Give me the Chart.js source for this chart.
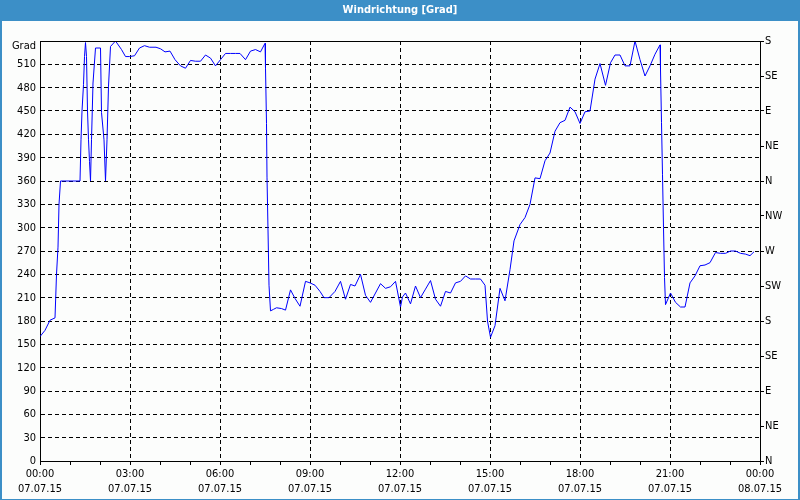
<!DOCTYPE html>
<html>
<head>
<meta charset="utf-8">
<script src="https://cdn.jsdelivr.net/npm/chart.js@4/dist/chart.umd.min.js"></script>
<style>
html,body{margin:0;padding:0;background:#fcfdfc;}
canvas{display:block;}
</style>
</head>
<body>
<canvas id="c" width="800" height="500"></canvas>
<script>
// ---- data ----
const titleText = 'Windrichtung [Grad]';
const unitLabel = 'Grad';
const dateLabels = ['07.07.15', '08.07.15'];
const compassLabels = ['N','NE','E','SE','S','SW','W','NW','N','NE','E','SE','S'];

// minutes since 07.07.15 00:00
const timeMinutes = [
  0, 10, 20, 30, 33, 36, 38, 41, 80, 82, 84, 87, 89, 91, 93, 95, 97, 99, 101,
  103, 106, 111, 121, 123, 128, 131, 134, 137, 141, 151, 163, 171, 179, 189, 199,
  209, 219, 232, 241, 250, 260, 270, 281, 291, 301, 311, 321, 331, 341, 351, 361,
  371, 381, 391, 400, 411, 421, 431, 441, 450, 451, 453, 454, 456, 458, 461, 467,
  473, 483, 491, 501, 510, 520, 531, 540, 550, 560, 568, 578, 590, 601, 611, 621,
  630, 641, 651, 661, 671, 681, 691, 701, 711, 721, 725, 731, 741, 751, 761, 771,
  781, 791, 801, 811, 821, 831, 841, 851, 861, 871, 881, 890, 895, 901, 910, 920,
  930, 940, 948, 960, 970, 980, 990, 1000, 1010, 1020, 1030, 1040, 1050, 1060, 1070,
  1080, 1090, 1100, 1110, 1120, 1131, 1141, 1150, 1160, 1170, 1180, 1190, 1200, 1210,
  1220, 1230, 1240, 1241, 1243, 1245, 1247, 1249, 1251, 1261, 1271, 1281, 1290, 1300,
  1310, 1320, 1330, 1340, 1351, 1361, 1371, 1381, 1391, 1401, 1411, 1420, 1428
];
const directionDeg = [
  160, 168, 181, 184, 240, 275, 330, 360, 360, 413, 450, 484, 520, 538, 520, 450, 413, 385, 360,
  413, 486, 531, 531, 448, 413, 360, 413, 482, 533, 540, 529, 520, 520, 521, 531,
  534, 532, 532, 530, 526, 527, 516, 508, 505, 515, 514, 514, 522, 518, 508, 516,
  524, 524, 524, 524, 516, 527, 529, 526, 537, 505, 434, 365, 297, 226, 193, 195,
  197, 196, 194, 220, 209, 199, 231, 229, 226, 218, 210, 210, 218, 231, 208, 227,
  225, 240, 213, 204, 216, 228, 222, 224, 231, 198, 211, 216, 202, 225, 210, 221,
  232, 208, 199, 218, 216, 229, 231, 238, 234, 234, 234, 226, 180, 159, 174, 222,
  206, 246, 283, 304, 313, 330, 364, 363, 386, 396, 424, 435, 438, 455, 449,
  434, 449, 450, 491, 511, 483, 512, 522, 522, 508, 508, 540, 516, 495,
  508, 523, 535, 503, 435, 368, 300, 236, 201, 216, 204, 198, 198, 229,
  238, 251, 252, 255, 268, 267, 267, 270, 270, 267, 266, 264, 269
];

const points = timeMinutes.map((t, i) => ({ x: t, y: directionDeg[i] }));

const FONT = '"DejaVu Sans Condensed", "Liberation Sans", Arial, sans-serif';
const BLUE = '#3c8fc7';

const framePlugin = {
  id: 'frame',
  beforeDraw(chart) {
    const ctx = chart.ctx;
    ctx.save();
    ctx.fillStyle = '#fcfdfc';
    ctx.fillRect(0, 0, chart.width, chart.height);
    ctx.fillStyle = BLUE;
    ctx.fillRect(0, 0, chart.width, 21);
    ctx.fillRect(0, 0, 2, chart.height);
    ctx.fillRect(chart.width - 2, 0, 2, chart.height);
    ctx.fillRect(0, chart.height - 1, chart.width, 1);
    ctx.restore();
  },
  afterDraw(chart) {
    const a = chart.chartArea;
    const ctx = chart.ctx;
    ctx.save();
    ctx.strokeStyle = '#000';
    ctx.lineWidth = 1;
    ctx.beginPath();
    const y = Math.round(a.top) + 0.5;
    ctx.moveTo(Math.round(a.left), y);
    ctx.lineTo(Math.round(a.right) + 1, y);
    ctx.stroke();
    ctx.restore();
  }
};

function pad2(n) { return String(n).padStart(2, '0'); }

new Chart(document.getElementById('c'), {
  type: 'line',
  data: {
    datasets: [{
      data: points,
      borderColor: '#0000ff',
      borderWidth: 1,
      pointRadius: 0,
      tension: 0,
      fill: false
    }]
  },
  options: {
    responsive: false,
    devicePixelRatio: 1,
    animation: false,
    layout: { padding: 0 },
    plugins: {
      legend: { display: false },
      tooltip: { enabled: false },
      title: {
        display: true,
        text: titleText,
        color: '#ffffff',
        font: { family: FONT, size: 11, weight: 'bold', lineHeight: 1.2 },
        padding: { top: 4, bottom: 23.8 }
      }
    },
    scales: {
      x: {
        type: 'linear',
        min: 0,
        max: 1440,
        afterFit(s) { s.height = 39; },
        ticks: {
          stepSize: 60,
          maxTicksLimit: 100,
          autoSkip: false,
          maxRotation: 0,
          padding: 2,
          color: '#000',
          font: { family: FONT, size: 11, lineHeight: 15 / 11 },
          callback(v) {
            if (v % 180 !== 0) return '';
            const h = (v / 60) % 24;
            return [pad2(h) + ':00', v >= 1440 ? dateLabels[1] : dateLabels[0]];
          }
        },
        grid: {
          color: (c) => (c.tick && c.tick.value % 180 === 0) ? '#000' : 'rgba(0,0,0,0)',
          tickColor: '#000',
          tickLength: 4,
          lineWidth: 1
        },
        border: { display: true, color: '#000', width: 1, dash: [4, 3] }
      },
      y: {
        position: 'left',
        min: 0,
        max: 540,
        afterFit(s) { s.width = 40; },
        ticks: {
          stepSize: 30,
          maxTicksLimit: 100,
          autoSkip: false,
          padding: 4,
          color: '#000',
          font: { family: FONT, size: 11, lineHeight: 1 },
          callback(v) { return v === 540 ? ['', unitLabel] : String(v); }
        },
        grid: { color: '#000', drawTicks: false, lineWidth: 1 },
        border: { display: true, color: '#000', width: 1, dash: [4, 3] }
      },
      y2: {
        position: 'right',
        min: 0,
        max: 540,
        afterFit(s) { s.width = 40; },
        ticks: {
          stepSize: 45,
          maxTicksLimit: 100,
          autoSkip: false,
          padding: 1,
          color: '#000',
          font: { family: FONT, size: 11 },
          callback(v) { return compassLabels[Math.round(v / 45)]; }
        },
        grid: { drawOnChartArea: false, drawTicks: true, tickLength: 4, tickColor: '#000' },
        border: { display: true, color: '#000', width: 1 }
      }
    }
  },
  plugins: [framePlugin]
});
</script>
</body>
</html>
